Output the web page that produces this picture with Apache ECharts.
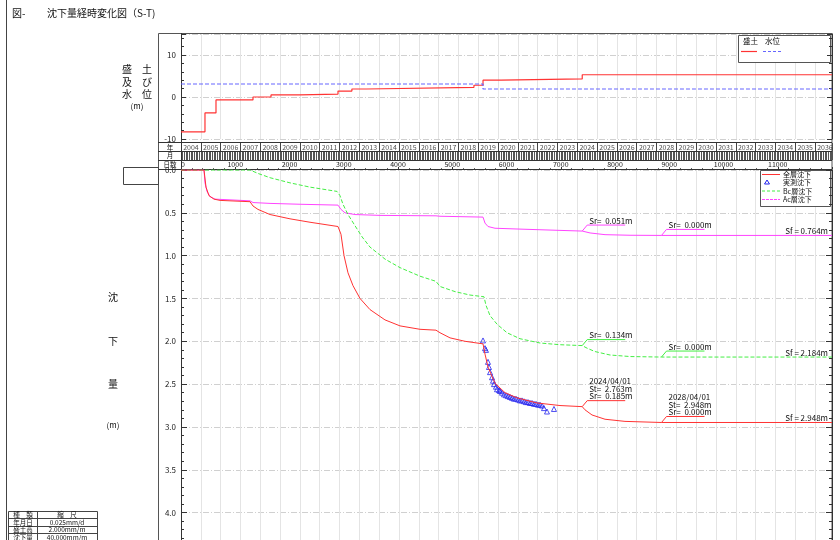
<!DOCTYPE html>
<html><head><meta charset="utf-8">
<script src="https://cdn.jsdelivr.net/npm/echarts@6/dist/echarts.min.js"></script>
<style>html,body{margin:0;padding:0;background:#fff}#c{width:840px;height:540px}</style>
</head><body><div id="c"></div>
<script>
// ---------------- data (x = elapsed days from 2004/01/01) ----------------
const yearLabels = [2004,2005,2006,2007,2008,2009,2010,2011,2012,2013,2014,2015,2016,2017,2018,2019,2020,2021,2022,2023,2024,2025,2026,2027,2028,2029,2030,2031,2032,2033,2034,2035,2036];
const dayLabels = [0,1000,2000,3000,4000,5000,6000,7000,8000,9000,10000,11000];

// 盛土 (step line)
const fillDays    = [0,    442,  645,  1327, 1659, 2190, 2894, 3150, 3420, 5400, 5567, 5900, 7396, 12000];
const fillHeights = [-8.3, -3.8, -0.7, 0.0,  0.5,  0.7,  1.4,  1.9,  2.3,  2.8,  4.0,  4.3,  5.3,  5.3];
// 水位
const waterDays   = [0,   5567, 12000];
const waterLevels = [3.1, 1.9,  1.9];

// 全層沈下
const totalDays   = [0,424,461,516,608,719,1272,1327,1419,1641,2009,2378,2894,2949,3005,3078,3170,3300,3484,3760,4037,4406,4700,4774,4959,5235,5567,5604,5659,5788,5972,6193,6562,6986,7396,7447,7576,7816,8184,8857,12000];
const totalSettle = [0,0,0.2,0.3,0.34,0.355,0.37,0.42,0.46,0.52,0.57,0.61,0.66,0.75,1.0,1.2,1.35,1.5,1.63,1.75,1.82,1.86,1.87,1.9,1.96,2.0,2.03,2.15,2.3,2.49,2.6,2.66,2.72,2.75,2.763,2.8,2.86,2.91,2.935,2.948,2.948];
// Bc層沈下
const bcDays   = [0,1272,1419,1641,2009,2378,2876,2931,2986,3078,3207,3337,3484,3760,4037,4406,4700,4774,5051,5327,5585,5622,5696,5825,6009,6249,6617,6986,7396,7484,7632,7908,8277,8857,12000];
const bcSettle = [0,0,0.04,0.09,0.15,0.2,0.25,0.3,0.4,0.52,0.65,0.78,0.9,1.04,1.14,1.24,1.3,1.36,1.42,1.46,1.48,1.58,1.7,1.8,1.9,1.97,2.02,2.04,2.05,2.08,2.12,2.16,2.178,2.184,2.184];
// Ac層沈下
const acDays   = [0,424,442,479,535,627,1272,1327,1641,2193,2894,2949,3023,3207,3668,4700,4774,5567,5604,5659,5788,6249,6986,7396,7540,7816,8277,8857,12000];
const acSettle = [0,0,0.15,0.25,0.31,0.34,0.36,0.38,0.39,0.4,0.41,0.46,0.5,0.52,0.53,0.535,0.54,0.55,0.62,0.66,0.68,0.69,0.705,0.713,0.735,0.755,0.762,0.764,0.764];
// 実測沈下
const measDays   = [5567,5604,5622,5659,5677,5696,5733,5751,5770,5806,5825,5862,5880,5917,5954,5991,6027,6064,6101,6138,6175,6212,6249,6286,6323,6359,6396,6433,6470,6507,6544,6581,6617,6654,6691,6746,6875];
const measSettle = [1.99,2.08,2.10,2.24,2.30,2.36,2.42,2.46,2.50,2.53,2.56,2.57,2.58,2.60,2.62,2.63,2.64,2.65,2.66,2.67,2.67,2.68,2.69,2.69,2.70,2.71,2.71,2.72,2.72,2.73,2.73,2.74,2.74,2.75,2.78,2.82,2.79];

// annotations
const annoSeries = ['total','total','bc','bc','ac','ac'];
const annoDays   = [7396, 8857, 7396, 8857, 7396, 8857];
const annoValues = [2.763, 2.948, 2.05, 2.184, 0.713, 0.764];
const annoTexts  = [
  ['2024/04/01','St=  2.763m','Sr=  0.185m'],
  ['2028/04/01','St=  2.948m','Sr=  0.000m'],
  ['Sr=  0.134m'],
  ['Sr=  0.000m'],
  ['Sr=  0.051m'],
  ['Sr=  0.000m']
];
const finalSeries = ['total','bc','ac'];
const finalValues = [2.948, 2.184, 0.764];

// ---------------- chart ----------------
const FONT = '"Noto Sans CJK JP", "Noto Sans", sans-serif';
const COL = {total:'#ff3333', bc:'#44ee44', ac:'#ff44ff', meas:'#2222ee', fill:'#ff3333', water:'#6666ff'};
const zip = (a,b)=>a.map((v,i)=>[v,b[i]]);
const L = 181, W = 651, XMAX = 12000;

const chart = echarts.init(document.getElementById('c'), null, {renderer:'canvas'});

const hiddenY = g => ({gridIndex:g, type:'value', min:0, max:1, show:false});
const baseX = (g, interval, color) => ({gridIndex:g, type:'value', min:0, max:XMAX, interval:interval,
  axisLabel:{show:false}, axisTick:{show:false}, axisLine:{show:false},
  splitLine:{show:true, lineStyle:{color:color, width:1}}});

const option = {
  animation:false,
  textStyle:{fontFamily:FONT},
  grid:[
    {left:L, top:34, width:W, height:105},
    {left:L, top:143, width:W, height:8},
    {left:L, top:151, width:W, height:9},
    {left:L, top:160, width:W, height:9},
    {left:L, top:170, width:W, height:370}
  ],
  xAxis:[
    baseX(0, 365.25, '#e4e4e4'),
    baseX(1, 365.25, '#444'),
    baseX(2, 365.25/12, '#555'),
    {gridIndex:3, type:'value', min:0, max:XMAX, interval:1000,
      axisLine:{show:false}, splitLine:{show:false},
      axisTick:{show:true, inside:true, length:2, lineStyle:{color:'#333'}},
      minorTick:{show:true, splitNumber:5, length:1, lineStyle:{color:'#666'}},
      axisLabel:{show:true, inside:true, margin:1, fontSize:7, color:'#222', fontFamily:FONT,
        alignMinLabel:'left', showMaxLabel:false,
        formatter:v=>dayLabels.indexOf(v)>=0 ? String(v) : ''}},
    baseX(4, 365.25, '#e4e4e4')
  ],
  yAxis:[
    {gridIndex:0, type:'value', min:-10, max:15, interval:10,
      axisLine:{show:true, lineStyle:{color:'#333'}},
      axisTick:{show:true, inside:true, length:5, lineStyle:{color:'#333'}},
      minorTick:{show:true, splitNumber:5, length:3, lineStyle:{color:'#333'}},
      axisLabel:{fontSize:8, color:'#222', margin:5, showMaxLabel:false},
      splitLine:{show:true, lineStyle:{color:'#d0d0d0', type:[6,2,1,2]}}},
    {gridIndex:0, type:'value', min:-10, max:15, interval:10, position:'right',
      axisLine:{show:true, lineStyle:{color:'#333'}},
      axisTick:{show:true, inside:true, length:5, lineStyle:{color:'#333'}},
      minorTick:{show:true, splitNumber:5, length:3, lineStyle:{color:'#333'}},
      axisLabel:{show:false}, splitLine:{show:false}},
    hiddenY(1), hiddenY(2), hiddenY(3),
    {gridIndex:4, type:'value', inverse:true, min:0, max:4.32, interval:0.5,
      axisLine:{show:true, lineStyle:{color:'#333'}},
      axisTick:{show:true, inside:true, length:6, lineStyle:{color:'#333'}},
      minorTick:{show:true, splitNumber:5, length:3, lineStyle:{color:'#333'}},
      axisLabel:{fontSize:8, color:'#222', margin:5, showMaxLabel:false, formatter:v=>v.toFixed(1)},
      splitLine:{show:true, lineStyle:{color:'#d0d0d0', type:[6,2,1,2]}}},
    {gridIndex:4, type:'value', inverse:true, min:0, max:4.32, interval:0.5, position:'right',
      axisLine:{show:true, lineStyle:{color:'#333'}},
      axisTick:{show:true, inside:true, length:6, lineStyle:{color:'#333'}},
      minorTick:{show:true, splitNumber:5, length:3, lineStyle:{color:'#333'}},
      axisLabel:{show:false}, splitLine:{show:false}}
  ],
  series:[
    {name:'盛土', type:'line', xAxisIndex:0, yAxisIndex:0, step:'end', symbol:'none',
      data:zip(fillDays, fillHeights), lineStyle:{color:COL.fill, width:1.2}},
    {name:'水位', type:'line', xAxisIndex:0, yAxisIndex:0, step:'end', symbol:'none',
      data:zip(waterDays, waterLevels), lineStyle:{color:COL.water, width:1.2, type:[4,2]}},
    {name:'year', type:'scatter', xAxisIndex:1, yAxisIndex:2, symbolSize:0, silent:true,
      data:yearLabels.map((y,i)=>[(i+0.5)*365.25, 0.5, y]),
      label:{show:true, position:'inside', formatter:p=>p.data[2], fontSize:7, color:'#222', fontFamily:FONT}},
    {name:'Ac層沈下', type:'line', xAxisIndex:4, yAxisIndex:5, symbol:'none',
      data:zip(acDays, acSettle), lineStyle:{color:COL.ac, width:1}},
    {name:'Bc層沈下', type:'line', xAxisIndex:4, yAxisIndex:5, symbol:'none',
      data:zip(bcDays, bcSettle), lineStyle:{color:COL.bc, width:1, type:[4,2]}},
    {name:'全層沈下', type:'line', xAxisIndex:4, yAxisIndex:5, symbol:'none',
      data:zip(totalDays, totalSettle), lineStyle:{color:COL.total, width:1}},
    {name:'実測沈下', type:'scatter', xAxisIndex:4, yAxisIndex:5, symbol:'triangle', symbolSize:5,
      data:zip(measDays, measSettle),
      itemStyle:{color:'rgba(255,255,255,0)', borderColor:COL.meas, borderWidth:1}}
  ]
};
chart.setOption(option);

// ---------------- decorations ----------------
const T = (x,y,text,size) => ({type:'text', x:x, y:y, silent:true,
  style:{text:text, fill:'#111', font:(size||9)+'px '+FONT, textAlign:'left', textVerticalAlign:'middle', align:'left', verticalAlign:'middle'}});
const TC = (x,y,text,size) => {const t=T(x,y,text,size); t.style.textAlign='center'; t.style.align='center'; return t;};
const TR = (x,y,text,size) => {const t=T(x,y,text,size); t.style.textAlign='right'; t.style.align='right'; return t;};
const Ln = (x1,y1,x2,y2,color,w,dash) => ({type:'line', silent:true, shape:{x1:x1,y1:y1,x2:x2,y2:y2},
  style:{stroke:color||'#333', lineWidth:w||1, lineDash:dash||null}});
const R = (x,y,w,h,color,fill) => ({type:'rect', silent:true, shape:{x:x,y:y,width:w,height:h},
  style:{stroke:color||'#333', fill:fill||'none', lineWidth:1}});

const g = [];
// page border and title
g.push(Ln(6.5,0,6.5,540,'#444'));
g.push(T(12,13,'図-',10));
g.push(T(47,13,'沈下量経時変化図（S-T)',10));
// frame
g.push(R(158.5,33.5,673.5,520,'#555'));
g.push(Ln(181.5,33,181.5,540,'#333'));
g.push(Ln(158,142.5,832,142.5,'#333'));
g.push(Ln(158,151.5,832,151.5,'#333'));
g.push(Ln(158,160.5,832,160.5,'#333'));
g.push(Ln(158,169.5,832,169.5,'#333'));
g.push(TC(170,147.5,'年',6.5));
g.push(TC(170,156,'月',6.5));
g.push(TC(170,165,'日数',6.5));
// left box
g.push(R(123.5,167.5,35,17,'#444'));
// left labels
g.push(TC(137,69,'盛　土',10));
g.push(TC(137,82,'及　び',10));
g.push(TC(137,94,'水　位',10));
g.push(TC(137,106,'(m)',8));
g.push(TC(113,297,'沈',10));
g.push(TC(113,341,'下',10));
g.push(TC(113,384,'量',10));
g.push(TC(113,425,'(m)',8));
// scale table
g.push(R(8.5,511.5,89,40,'#444'));
g.push(Ln(37.5,511,37.5,540,'#444'));
[518.5,526.5,533.5].forEach(y=>g.push(Ln(8,y,98,y,'#444')));
g.push(TC(23,515,'種　類',6.5)); g.push(TC(67,515,'縮　尺',6.5));
g.push(TC(23,522.5,'年月日',6.5)); g.push(TC(67,522.5,'0.025mm/d',6.5));
g.push(TC(23,530,'盛土高',6.5)); g.push(TC(67,530,'2.000mm/m',6.5));
g.push(TC(23,537.5,'沈下量',6.5)); g.push(TC(67,537.5,'40.000mm/m',6.5));
// top legend
g.push(R(738.5,35.5,92,27,'#555','#fff'));
g.push(T(743,41,'盛土',7.5)); g.push(T(765,41,'水位',7.5));
g.push(Ln(741,51.5,757,51.5,COL.fill,1.2));
g.push(Ln(763,51.5,781,51.5,COL.water,1.2,[3,2]));
// bottom legend
g.push(R(760.5,170.5,70,36,'#555','#fff'));
const legY = [174.5,182.5,191,199.5];
g.push(Ln(762,legY[0],780,legY[0],COL.total,1));
g.push({type:'polygon', silent:true, shape:{points:[[767,legY[1]-2.5],[764.5,legY[1]+1.5],[769.5,legY[1]+1.5]]}, style:{stroke:COL.meas, fill:'none', lineWidth:1}});
g.push(Ln(762,legY[2],780,legY[2],COL.bc,1,[3,2]));
g.push(Ln(762,legY[3],780,legY[3],COL.ac,1,[3,1]));
['全層沈下','実測沈下','Bc層沈下','Ac層沈下'].forEach((t,i)=>g.push(T(783,legY[i],t,7)));

// annotations positioned via the chart's own scales
for (let i=0;i<annoDays.length;i++){
  const p = chart.convertToPixel({gridIndex:4}, [annoDays[i], annoValues[i]]);
  const c = COL[annoSeries[i]];
  const ux = p[0]+5, uy = p[1]-6;
  g.push({type:'polyline', silent:true, shape:{points:[[p[0],p[1]],[ux,uy],[ux+38,uy]]}, style:{stroke:c, fill:'none', lineWidth:1}});
  const lines = annoTexts[i];
  lines.forEach((t,k)=>{
    g.push(T(ux+2, uy-4.5-(lines.length-1-k)*7.5, t, 8));
  });
}
for (let i=0;i<finalValues.length;i++){
  const p = chart.convertToPixel({gridIndex:4}, [XMAX, finalValues[i]]);
  g.push(TR(828, p[1]-4.5, 'Sf = '+finalValues[i].toFixed(3)+'m', 8));
}
chart.setOption({graphic:{elements:g}});
</script>
</body></html>
